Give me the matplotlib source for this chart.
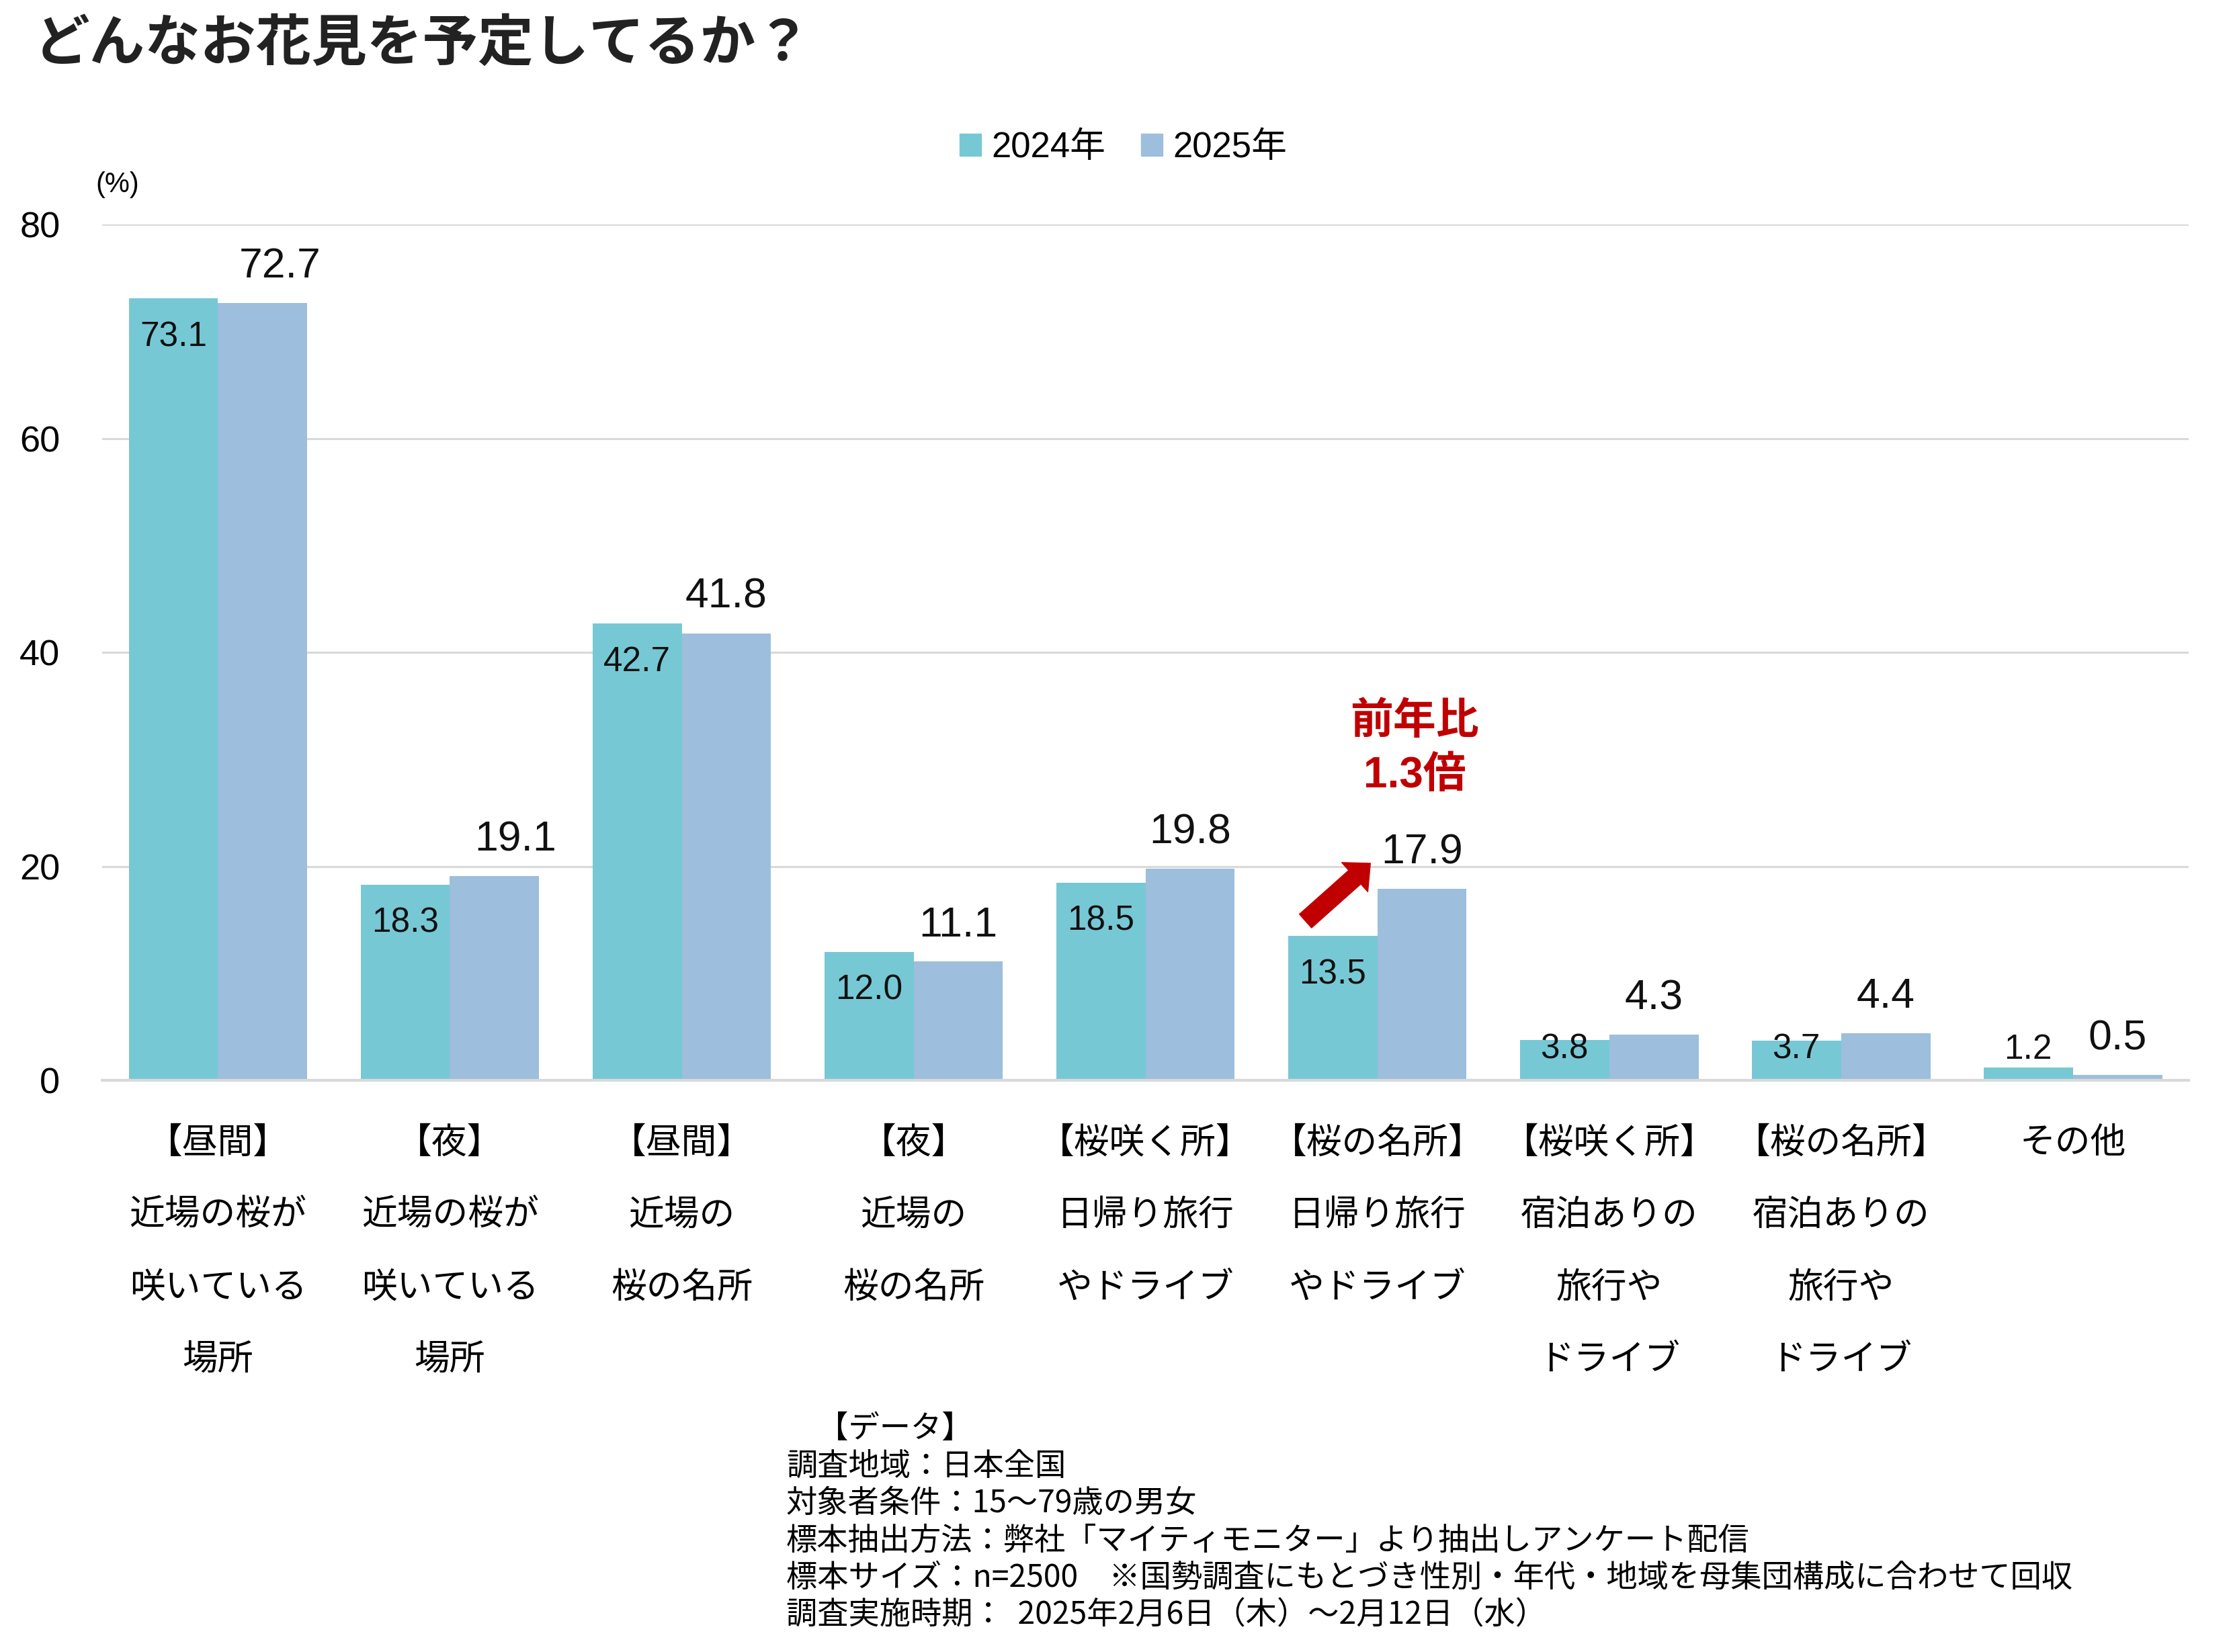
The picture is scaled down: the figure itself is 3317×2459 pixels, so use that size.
import numpy as np
import matplotlib
matplotlib.use("Agg")
import matplotlib.pyplot as plt
from matplotlib.patches import Patch

JP = ["Noto Sans CJK JP", "DejaVu Sans"]
LAT = ["Liberation Sans", "Noto Sans CJK JP", "DejaVu Sans"]
plt.rcParams["font.family"] = JP

categories = [
    "【昼間】\n近場の桜が\n咲いている\n場所",
    "【夜】\n近場の桜が\n咲いている\n場所",
    "【昼間】\n近場の\n桜の名所",
    "【夜】\n近場の\n桜の名所",
    "【桜咲く所】\n日帰り旅行\nやドライブ",
    "【桜の名所】\n日帰り旅行\nやドライブ",
    "【桜咲く所】\n宿泊ありの\n旅行や\nドライブ",
    "【桜の名所】\n宿泊ありの\n旅行や\nドライブ",
    "その他",
]
v2024 = [73.1, 18.3, 42.7, 12.0, 18.5, 13.5, 3.8, 3.7, 1.2]
v2025 = [72.7, 19.1, 41.8, 11.1, 19.8, 17.9, 4.3, 4.4, 0.5]
series = ["2024年", "2025年"]
yticks = [0, 20, 40, 60, 80]
footer = [
    "　【データ】",
    "調査地域：日本全国",
    "対象者条件：15～79歳の男女",
    "標本抽出方法：弊社「マイティモニター」より抽出しアンケート配信",
    "標本サイズ：n=2500　※国勢調査にもとづき性別・年代・地域を母集団構成に合わせて回収",
    "調査実施時期：  2025年2月6日（木）～2月12日（水）",
]

C24, C25 = "#77C8D5", "#9DBEDC"
RED = "#C00000"

fig = plt.figure(figsize=(33.17, 24.59), dpi=100)
ax = fig.add_axes([0.0458, 0.346, 0.9362, 0.518])

x = np.arange(len(categories))
w = 0.385
ax.bar(x - w / 2, v2024, w, color=C24, zorder=2)
ax.bar(x + w / 2, v2025, w, color=C25, zorder=2)

ax.set_xlim(-0.5, len(categories) - 0.5)
ax.set_ylim(0, 80)
ax.set_yticks(yticks)
ax.set_yticklabels([str(t) for t in yticks], family=LAT, fontsize=39)
ax.set_xticks(x)
ax.set_xticklabels(categories, fontsize=38, linespacing=2.22, va="top")
ax.tick_params(axis="y", length=0, pad=45)
ax.tick_params(axis="x", length=0, pad=47)
ax.yaxis.grid(True, color="#D9D9D9", lw=2.2)
ax.set_axisbelow(True)
for s in ["top", "right", "left"]:
    ax.spines[s].set_visible(False)
ax.spines["bottom"].set_color("#D9D9D9")
ax.spines["bottom"].set_linewidth(3)
ax.spines["bottom"].set_zorder(3)

# labels: 2024 inside the bar top, 2025 above the bar
for i, v in enumerate(v2024):
    ax.text(i - w / 2, max(v - 3.6, 2.9), f"{v:.1f}", ha="center", va="center",
            fontsize=37, family=LAT, color="#111111", zorder=4)
shift = {0: 0.075, 1: 0.09}
for i, v in enumerate(v2025):
    ax.annotate(f"{v:.1f}", (i + w / 2 + shift.get(i, 0), v), xytext=(0, 39),
                textcoords="offset points", ha="center", va="center",
                fontsize=45, family=LAT, color="#111111", zorder=4)

# 前年比 callout on 【桜の名所】日帰り
k = 5
ax.annotate("", xy=(k - 0.03, 20.3), xytext=(k - 0.31, 14.9),
            arrowprops=dict(arrowstyle="simple,head_width=1.5,head_length=0.8,tail_width=0.7",
                            mutation_scale=28, color=RED, shrinkA=0, shrinkB=0),
            zorder=5)
ax.text(k + 0.16, 31.0, "前年比\n1.3倍", ha="center", va="center", fontsize=46,
        fontweight="bold", family=LAT, color=RED, linespacing=1.4)

fig.text(0.0153, 0.9736, "どんなお花見を予定してるか？", fontsize=59.5, fontweight="bold",
         color="#222222", ha="left", va="center")
fig.text(0.0428, 0.888, "(%)", fontsize=30, ha="left", va="center", family=LAT)

handles = [Patch(color=C24), Patch(color=C25)]
fig.legend(handles, series, loc="center", bbox_to_anchor=(0.504, 0.9105),
           ncol=2, frameon=False, handlelength=0.6, handleheight=0.6,
           handletextpad=0.3, columnspacing=1.0, prop={"family": LAT, "size": 38})

y0 = 1 - 2127 / 2459
step = 55.4 / 2459
for i, line in enumerate(footer):
    fig.text(0.3527, y0 - i * step, line, fontsize=33.3, ha="left", va="center")

fig.savefig("out.png", dpi=100)
